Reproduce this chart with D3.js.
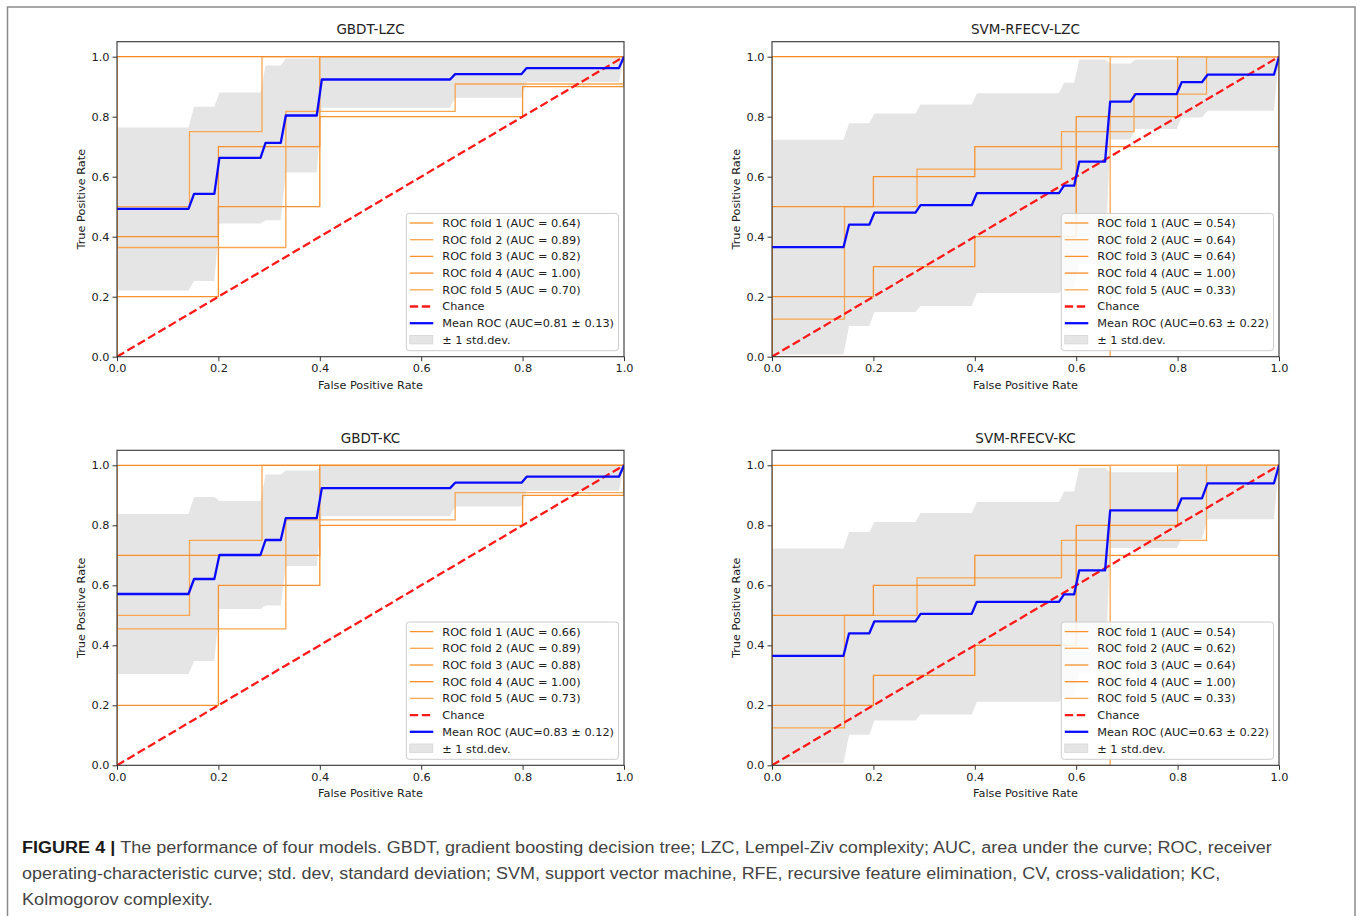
<!DOCTYPE html>
<html>
<head>
<meta charset="utf-8">
<script src="https://cdn.jsdelivr.net/npm/d3@7"></script>
<style>
  body { margin: 0; background: #fff; }
  svg text { font-family: "DejaVu Sans", sans-serif; }
  svg text.caption { font-family: "Liberation Sans", Arial, sans-serif; }
</style>
</head>
<body>
<div id="chart"></div>
<script>
// ROC curves of the four models

var panelTitles = ["GBDT-LZC", "SVM-RFECV-LZC", "GBDT-KC", "SVM-RFECV-KC"];
var foldAuc = [
    [0.64, 0.89, 0.82, 1.00, 0.70],
    [0.54, 0.64, 0.64, 1.00, 0.33],
    [0.66, 0.89, 0.88, 1.00, 0.73],
    [0.54, 0.62, 0.64, 1.00, 0.33]
];
var meanAuc = [0.81, 0.63, 0.83, 0.63];
var stdAuc = [0.13, 0.22, 0.12, 0.22];
var tickValues = [0.0, 0.2, 0.4, 0.6, 0.8, 1.0];

// fold curves: [fpr, tpr] corner points
var gbdtLzcFolds = [
    [[0, 0], [0, 0.2], [0.2, 0.2], [0.2, 0.5], [0.4, 0.5], [0.4, 0.8], [0.8, 0.8], [0.8, 0.9], [1, 0.9], [1, 1]],
    [[0, 0], [0, 0.5], [0.143, 0.5], [0.143, 0.75], [0.286, 0.75], [0.286, 1], [1, 1]],
    [[0, 0], [0, 0.4], [0.2, 0.4], [0.2, 0.7], [0.4, 0.7], [0.4, 1], [1, 1]],
    [[0, 0], [0, 1], [1, 1]],
    [[0, 0], [0, 0.364], [0.333, 0.364], [0.333, 0.818], [0.667, 0.818], [0.667, 0.909], [1, 0.909], [1, 1]]
];
var svmLzcFolds = [
    [[0, 0], [0, 0.2], [0.2, 0.2], [0.2, 0.3], [0.4, 0.3], [0.4, 0.4], [0.6, 0.4], [0.6, 0.8], [0.8, 0.8], [0.8, 1], [1, 1]],
    [[0, 0], [0, 0.125], [0.143, 0.125], [0.143, 0.5], [0.286, 0.5], [0.286, 0.625], [0.571, 0.625], [0.571, 0.75], [0.714, 0.75], [0.714, 0.875], [0.857, 0.875], [0.857, 1], [1, 1]],
    [[0, 0], [0, 0.5], [0.2, 0.5], [0.2, 0.6], [0.4, 0.6], [0.4, 0.7], [1, 0.7], [1, 1]],
    [[0, 0], [0, 1], [1, 1]],
    [[0, 0], [0.667, 0], [0.667, 1], [1, 1]]
];
var gbdtKcFolds = [
    [[0, 0], [0, 0.2], [0.2, 0.2], [0.2, 0.6], [0.4, 0.6], [0.4, 0.8], [0.8, 0.8], [0.8, 0.9], [1, 0.9], [1, 1]],
    [[0, 0], [0, 0.5], [0.143, 0.5], [0.143, 0.75], [0.286, 0.75], [0.286, 1], [1, 1]],
    [[0, 0], [0, 0.7], [0.4, 0.7], [0.4, 1], [1, 1]],
    [[0, 0], [0, 1], [1, 1]],
    [[0, 0], [0, 0.455], [0.333, 0.455], [0.333, 0.818], [0.667, 0.818], [0.667, 0.909], [1, 0.909], [1, 1]]
];
var svmKcFolds = [
    [[0, 0], [0, 0.2], [0.2, 0.2], [0.2, 0.3], [0.4, 0.3], [0.4, 0.4], [0.6, 0.4], [0.6, 0.8], [0.8, 0.8], [0.8, 1], [1, 1]],
    [[0, 0], [0, 0.125], [0.143, 0.125], [0.143, 0.5], [0.286, 0.5], [0.286, 0.625], [0.571, 0.625], [0.571, 0.75], [0.857, 0.75], [0.857, 1], [1, 1]],
    [[0, 0], [0, 0.5], [0.2, 0.5], [0.2, 0.6], [0.4, 0.6], [0.4, 0.7], [1, 0.7], [1, 1]],
    [[0, 0], [0, 1], [1, 1]],
    [[0, 0], [0.667, 0], [0.667, 1], [1, 1]]
];

// mean ROC and +/- 1 std band (vertices)
var gbdtLzcX     = [0, 0.141, 0.152, 0.192, 0.202, 0.283, 0.293, 0.323, 0.333, 0.394, 0.404, 0.657, 0.667, 0.798, 0.808, 0.990, 1];
var gbdtLzcMean  = [0.493, 0.493, 0.543, 0.543, 0.663, 0.663, 0.713, 0.713, 0.804, 0.804, 0.924, 0.924, 0.942, 0.942, 0.962, 0.962, 1];
var gbdtLzcLower = [0.221, 0.221, 0.252, 0.252, 0.444, 0.444, 0.455, 0.455, 0.614, 0.614, 0.830, 0.830, 0.863, 0.863, 0.915, 0.915, 1];
var gbdtLzcUpper = [0.764, 0.764, 0.833, 0.833, 0.881, 0.881, 0.971, 0.971, 0.994, 0.994, 1, 1, 1, 1, 1, 1, 1];

var svmLzcX     = [0, 0.141, 0.152, 0.192, 0.202, 0.283, 0.293, 0.394, 0.404, 0.566, 0.576, 0.596, 0.606, 0.657, 0.667, 0.707, 0.717, 0.798, 0.808, 0.848, 0.859, 0.990, 1];
var svmLzcMean  = [0.365, 0.365, 0.44, 0.44, 0.48, 0.48, 0.505, 0.505, 0.545, 0.545, 0.57, 0.57, 0.65, 0.65, 0.85, 0.85, 0.875, 0.875, 0.915, 0.915, 0.94, 0.94, 1];
var svmLzcLower = [0.007, 0.007, 0.102, 0.102, 0.149, 0.149, 0.169, 0.169, 0.212, 0.212, 0.227, 0.227, 0.309, 0.309, 0.724, 0.724, 0.759, 0.759, 0.797, 0.797, 0.82, 0.82, 1];
var svmLzcUpper = [0.723, 0.723, 0.778, 0.778, 0.811, 0.811, 0.841, 0.841, 0.878, 0.878, 0.913, 0.913, 0.991, 0.991, 0.977, 0.977, 0.991, 0.991, 1, 1, 1, 1, 1];

var gbdtKcX     = [0, 0.141, 0.152, 0.192, 0.202, 0.283, 0.293, 0.323, 0.333, 0.394, 0.404, 0.657, 0.667, 0.798, 0.808, 0.990, 1];
var gbdtKcMean  = [0.571, 0.571, 0.621, 0.621, 0.701, 0.701, 0.751, 0.751, 0.824, 0.824, 0.924, 0.924, 0.942, 0.942, 0.962, 0.962, 1];
var gbdtKcLower = [0.304, 0.304, 0.348, 0.348, 0.521, 0.521, 0.533, 0.533, 0.664, 0.664, 0.830, 0.830, 0.863, 0.863, 0.915, 0.915, 1];
var gbdtKcUpper = [0.838, 0.838, 0.894, 0.894, 0.881, 0.881, 0.969, 0.969, 0.983, 0.983, 1, 1, 1, 1, 1, 1, 1];

var svmKcX     = [0, 0.141, 0.152, 0.192, 0.202, 0.283, 0.293, 0.394, 0.404, 0.566, 0.576, 0.596, 0.606, 0.657, 0.667, 0.798, 0.808, 0.848, 0.859, 0.990, 1];
var svmKcMean  = [0.365, 0.365, 0.44, 0.44, 0.48, 0.48, 0.505, 0.505, 0.545, 0.545, 0.57, 0.57, 0.65, 0.65, 0.85, 0.85, 0.89, 0.89, 0.94, 0.94, 1];
var svmKcLower = [0.007, 0.007, 0.102, 0.102, 0.149, 0.149, 0.169, 0.169, 0.212, 0.212, 0.227, 0.227, 0.309, 0.309, 0.724, 0.724, 0.754, 0.754, 0.82, 0.82, 1];
var svmKcUpper = [0.723, 0.723, 0.778, 0.778, 0.811, 0.811, 0.841, 0.841, 0.878, 0.878, 0.913, 0.913, 0.991, 0.991, 0.977, 0.977, 1, 1, 1, 1, 1];

var captionLines = [
    ["FIGURE 4 | ", "The performance of four models. GBDT, gradient boosting decision tree; LZC, Lempel-Ziv complexity; AUC, area under the curve; ROC, receiver"],
    ["", "operating-characteristic curve; std. dev, standard deviation; SVM, support vector machine, RFE, recursive feature elimination, CV, cross-validation; KC,"],
    ["", "Kolmogorov complexity."]
];

// layout
var svgWidth = 1363;
var svgHeight = 916;
var plotW = 507;
var plotH = 315;
var panelPos = [[117, 41.7], [772, 41.7], [117, 450.3], [772, 450.3]];
var captionRight = [1273, 1221, 213];
var foldColors = ["#f7922f", "#f9a650", "#f7922f", "#f78a22", "#f9a650"];

var panels = [
    { folds: gbdtLzcFolds, xs: gbdtLzcX, mean: gbdtLzcMean, lower: gbdtLzcLower, upper: gbdtLzcUpper },
    { folds: svmLzcFolds, xs: svmLzcX, mean: svmLzcMean, lower: svmLzcLower, upper: svmLzcUpper },
    { folds: gbdtKcFolds, xs: gbdtKcX, mean: gbdtKcMean, lower: gbdtKcLower, upper: gbdtKcUpper },
    { folds: svmKcFolds, xs: svmKcX, mean: svmKcMean, lower: svmKcLower, upper: svmKcUpper }
];

var svg = d3.select("#chart")
    .append("svg")
    .attr("width", svgWidth)
    .attr("height", svgHeight);

svg.append("rect")
    .attr("width", svgWidth).attr("height", svgHeight)
    .attr("fill", "#fff");

// outer figure frame
svg.append("rect")
    .attr("x", 7.5).attr("y", 7)
    .attr("width", 1347.5).attr("height", 930)
    .attr("fill", "none")
    .attr("stroke", "#8a8a8a")
    .attr("stroke-width", 1.5);

var x = d3.scaleLinear().domain([0, 1]).range([0, plotW]);
var y = d3.scaleLinear().domain([0, 1.05]).range([plotH, 0]);

panels.forEach(function(p, i) {
    var g = svg.append("g")
        .attr("transform", `translate(${panelPos[i][0]}, ${panelPos[i][1]})`);

    g.append("clipPath").attr("id", "clip" + i)
        .append("rect").attr("width", plotW).attr("height", plotH);

    var plot = g.append("g").attr("clip-path", `url(#clip${i})`);

    var band = p.xs.map(function(v, k) {
        return { fpr: v, mean: p.mean[k], lo: p.lower[k], hi: p.upper[k] };
    });

    // std band
    plot.append("path")
        .datum(band)
        .attr("fill", "#e5e5e5")
        .attr("d", d3.area()
            .x(d => x(d.fpr))
            .y0(d => y(d.lo))
            .y1(d => y(d.hi)));

    // folds
    var line = d3.line().x(d => x(d[0])).y(d => y(d[1]));
    p.folds.forEach(function(f, k) {
        plot.append("path")
            .datum(f)
            .attr("fill", "none")
            .attr("stroke", foldColors[k])
            .attr("stroke-width", 1.3)
            .attr("d", line);
    });

    // chance
    plot.append("path")
        .datum([[0, 0], [1, 1]])
        .attr("fill", "none")
        .attr("stroke", "#ff1a1a")
        .attr("stroke-width", 2.3)
        .attr("stroke-dasharray", "8.4,3.6")
        .attr("d", line);

    // mean ROC
    plot.append("path")
        .datum(band)
        .attr("fill", "none")
        .attr("stroke", "#0a0aff")
        .attr("stroke-width", 2.3)
        .attr("stroke-linejoin", "round")
        .attr("d", d3.line().x(d => x(d.fpr)).y(d => y(d.mean)));

    // axes
    var xAxis = g.append("g")
        .attr("transform", `translate(0, ${plotH})`)
        .call(d3.axisBottom(x).tickValues(tickValues).tickFormat(d3.format(".1f")).tickSize(4.5).tickPadding(3));
    var yAxis = g.append("g")
        .call(d3.axisLeft(y).tickValues(tickValues).tickFormat(d3.format(".1f")).tickSize(4.5).tickPadding(3));
    [xAxis, yAxis].forEach(function(a) {
        a.select(".domain").remove();
        a.selectAll("line").attr("stroke", "#333").attr("stroke-width", 1);
        a.selectAll("text")
            .attr("fill", "#222")
            .attr("font-size", "11.3px")
            .attr("font-family", "DejaVu Sans");
    });

    g.append("rect")
        .attr("width", plotW).attr("height", plotH)
        .attr("fill", "none")
        .attr("stroke", "#333")
        .attr("stroke-width", 1.1);

    // title and axis labels
    g.append("text")
        .attr("x", plotW / 2).attr("y", -7.5)
        .attr("text-anchor", "middle")
        .attr("font-size", "13.5px")
        .attr("fill", "#222")
        .text(panelTitles[i]);

    g.append("text")
        .attr("x", plotW / 2).attr("y", plotH + 32)
        .attr("text-anchor", "middle")
        .attr("font-size", "11.3px")
        .attr("fill", "#222")
        .text("False Positive Rate");

    g.append("text")
        .attr("transform", "rotate(-90)")
        .attr("x", -plotH / 2).attr("y", -32.5)
        .attr("text-anchor", "middle")
        .attr("font-size", "11.3px")
        .attr("fill", "#222")
        .text("True Positive Rate");

    // legend
    var entries = foldAuc[i].map(function(a, k) {
        return { label: `ROC fold ${k + 1} (AUC = ${a.toFixed(2)})`, kind: "fold", color: foldColors[k] };
    });
    entries.push({ label: "Chance", kind: "chance" });
    entries.push({ label: `Mean ROC (AUC=${meanAuc[i].toFixed(2)} \u00b1 ${stdAuc[i].toFixed(2)})`, kind: "mean" });
    entries.push({ label: "\u00b1 1 std.dev.", kind: "band" });

    var leg = g.append("g");
    var box = leg.append("rect");
    var rowH = 16.7;
    var texts = [];
    entries.forEach(function(e, k) {
        var cy = 9.6 + k * rowH;
        if (e.kind === "band") {
            leg.append("rect")
                .attr("x", 3.5).attr("y", cy - 4.5)
                .attr("width", 23).attr("height", 8.5)
                .attr("fill", "#e5e5e5")
                .attr("stroke", "#d6d6d6").attr("stroke-width", 0.8);
        } else {
            leg.append("line")
                .attr("x1", 3.5).attr("x2", 27)
                .attr("y1", cy).attr("y2", cy)
                .attr("stroke", e.kind === "fold" ? e.color : e.kind === "chance" ? "#ff1a1a" : "#0a0aff")
                .attr("stroke-width", e.kind === "fold" ? 1.3 : 2.3)
                .attr("stroke-dasharray", e.kind === "chance" ? "8.4,3.6" : null);
        }
        texts.push(leg.append("text")
            .attr("x", 36).attr("y", cy + 4)
            .attr("font-size", "11.3px")
            .attr("fill", "#222")
            .text(e.label));
    });
    var maxW = d3.max(texts, t => t.node().getComputedTextLength());
    var boxW = 36 + maxW + 4.5;
    var boxH = 9.6 + 7 * rowH + 10.8;
    box.attr("width", boxW).attr("height", boxH)
        .attr("rx", 3)
        .attr("fill", "#fff").attr("fill-opacity", 0.85)
        .attr("stroke", "#cccccc").attr("stroke-width", 1);
    leg.attr("transform", `translate(${plotW - 5.5 - boxW}, ${plotH - 6 - boxH})`);
});

// caption
captionLines.forEach(function(line, i) {
    var t = svg.append("text")
        .attr("class", "caption")
        .attr("font-size", "17px")
        .style("white-space", "pre");
    if (line[0]) {
        t.append("tspan").attr("font-weight", "bold").attr("fill", "#1a1a1a").text(line[0]);
    }
    t.append("tspan").attr("fill", "#444").text(line[1]);
    var w = t.node().getComputedTextLength();
    var s = (captionRight[i] - 22) / w;
    t.attr("transform", `translate(22, ${853.3 + i * 26}) scale(${s}, 1)`);
});
</script>
</body>
</html>
